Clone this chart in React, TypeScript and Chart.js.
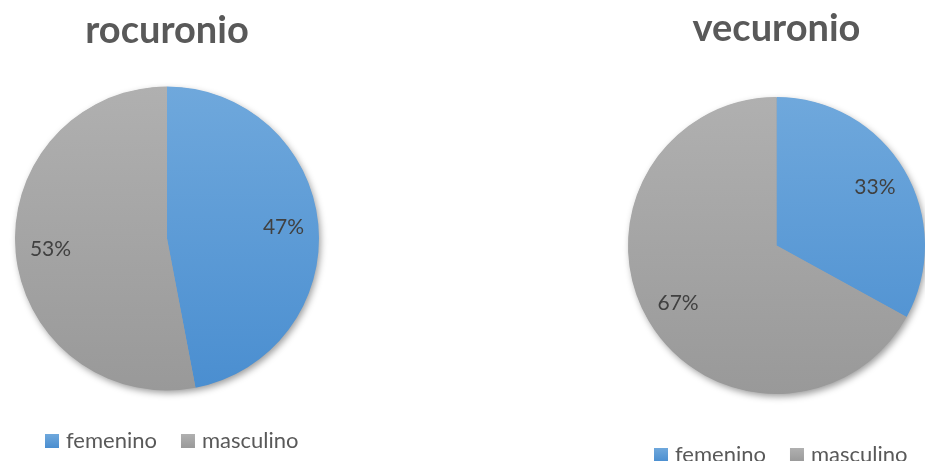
import React, { useEffect, useRef } from "react";
import { Chart, registerables } from "chart.js";
Chart.register(...registerables);

const categories = ["femenino", "masculino"];
const rocuronioValues = [47, 53];
const vecuronioValues = [33, 67];
const titles = ["rocuronio", "vecuronio"];

const FONT = "Lato, 'Open Sans', sans-serif";
const TEXT = "#595959";
const LABEL = "#404040";

type Cfg = {
  title: string;
  values: number[];
  width: number;
  padding: { left: number; right: number; top: number; bottom: number };
  titleX: number;
  titleY: number;
  legendX: number;
  legendY: number;
};

function grad(chart: any, top: string, bottom: string, fallback: string) {
  const ca = chart.chartArea;
  if (!ca) return fallback;
  const g = chart.ctx.createLinearGradient(0, ca.top, 0, ca.bottom);
  g.addColorStop(0, top);
  g.addColorStop(1, bottom);
  return g;
}

function PieChart({ cfg }: { cfg: Cfg }) {
  const ref = useRef<HTMLCanvasElement>(null);
  useEffect(() => {
    const canvas = ref.current!;
    const decor = {
      id: "decor",
      beforeDatasetsDraw(chart: any) {
        const ctx = chart.ctx;
        const meta = chart.getDatasetMeta(0);
        const a = meta.data[0];
        if (!a) return;
        const p = a.getProps(["x", "y", "outerRadius"], true);
        ctx.save();
        ctx.shadowColor = "rgba(0,0,0,0.4)";
        ctx.shadowBlur = 7;
        ctx.shadowOffsetX = 2;
        ctx.shadowOffsetY = 3;
        ctx.fillStyle = "#a0a0a0";
        ctx.beginPath();
        ctx.arc(p.x, p.y, p.outerRadius - 0.5, 0, Math.PI * 2);
        ctx.fill();
        ctx.restore();
      },
      afterDatasetsDraw(chart: any) {
        const ctx = chart.ctx;
        const meta = chart.getDatasetMeta(0);
        const total = cfg.values.reduce((a, b) => a + b, 0);
        ctx.save();
        ctx.font = `21px ${FONT}`;
        ctx.fillStyle = LABEL;
        ctx.textAlign = "center";
        ctx.textBaseline = "middle";
        meta.data.forEach((arc: any, i: number) => {
          const p = arc.getProps(["x", "y", "startAngle", "endAngle", "outerRadius"], true);
          const mid = (p.startAngle + p.endAngle) / 2;
          const r = p.outerRadius * 0.77;
          const pct = Math.round((cfg.values[i] / total) * 100) + "%";
          ctx.fillText(pct, p.x + Math.cos(mid) * r, p.y + Math.sin(mid) * r);
        });
        ctx.restore();
      },
      afterDraw(chart: any) {
        const ctx = chart.ctx;
        ctx.save();
        ctx.font = `bold 38px ${FONT}`;
        ctx.fillStyle = TEXT;
        ctx.textAlign = "center";
        ctx.textBaseline = "middle";
        ctx.fillText(cfg.title, cfg.titleX, cfg.titleY);
        ctx.font = `22px ${FONT}`;
        ctx.textAlign = "left";
        let x = cfg.legendX;
        const colors = [["#6FA8DC", "#4A8ED0"], ["#B0B0B0", "#999999"]];
        categories.forEach((c, i) => {
          const g = ctx.createLinearGradient(0, cfg.legendY - 7, 0, cfg.legendY + 7);
          g.addColorStop(0, colors[i][0]);
          g.addColorStop(1, colors[i][1]);
          ctx.fillStyle = g;
          ctx.fillRect(x, cfg.legendY - 7, 14, 14);
          ctx.fillStyle = TEXT;
          ctx.fillText(c, x + 21, cfg.legendY);
          x += 21 + ctx.measureText(c).width + 24;
        });
        ctx.restore();
      },
    };
    const chart = new Chart(canvas, {
      type: "pie",
      data: {
        labels: categories,
        datasets: [
          {
            data: cfg.values,
            borderWidth: 0,
            backgroundColor: (c: any) =>
              c.dataIndex === 0
                ? grad(c.chart, "#6FA8DC", "#4A8ED0", "#5B9BD5")
                : grad(c.chart, "#B0B0B0", "#999999", "#A5A5A5"),
          },
        ],
      },
      options: {
        responsive: false,
        animation: false,
        devicePixelRatio: 1,
        layout: { padding: cfg.padding },
        plugins: {
          legend: { display: false },
          title: { display: false },
          tooltip: { enabled: false },
        },
      },
      plugins: [decor],
    });
    return () => chart.destroy();
  }, [cfg]);
  return <canvas ref={ref} width={cfg.width} height={461} style={{ display: "block" }} />;
}

const leftCfg: Cfg = {
  title: titles[0],
  values: rocuronioValues,
  width: 462,
  padding: { left: 15, right: 143, top: 86, bottom: 70 },
  titleX: 167,
  titleY: 31,
  legendX: 45,
  legendY: 441,
};

const rightCfg: Cfg = {
  title: titles[1],
  values: vecuronioValues,
  width: 463,
  padding: { left: 166, right: 0, top: 97, bottom: 67 },
  titleX: 314.5,
  titleY: 29,
  legendX: 192,
  legendY: 455,
};

export default function App() {
  return (
    <div style={{ position: "absolute", left: 0, top: 0, width: 925, height: 461, display: "flex", background: "#fff", overflow: "hidden" }}>
      <PieChart cfg={leftCfg} />
      <PieChart cfg={rightCfg} />
    </div>
  );
}
